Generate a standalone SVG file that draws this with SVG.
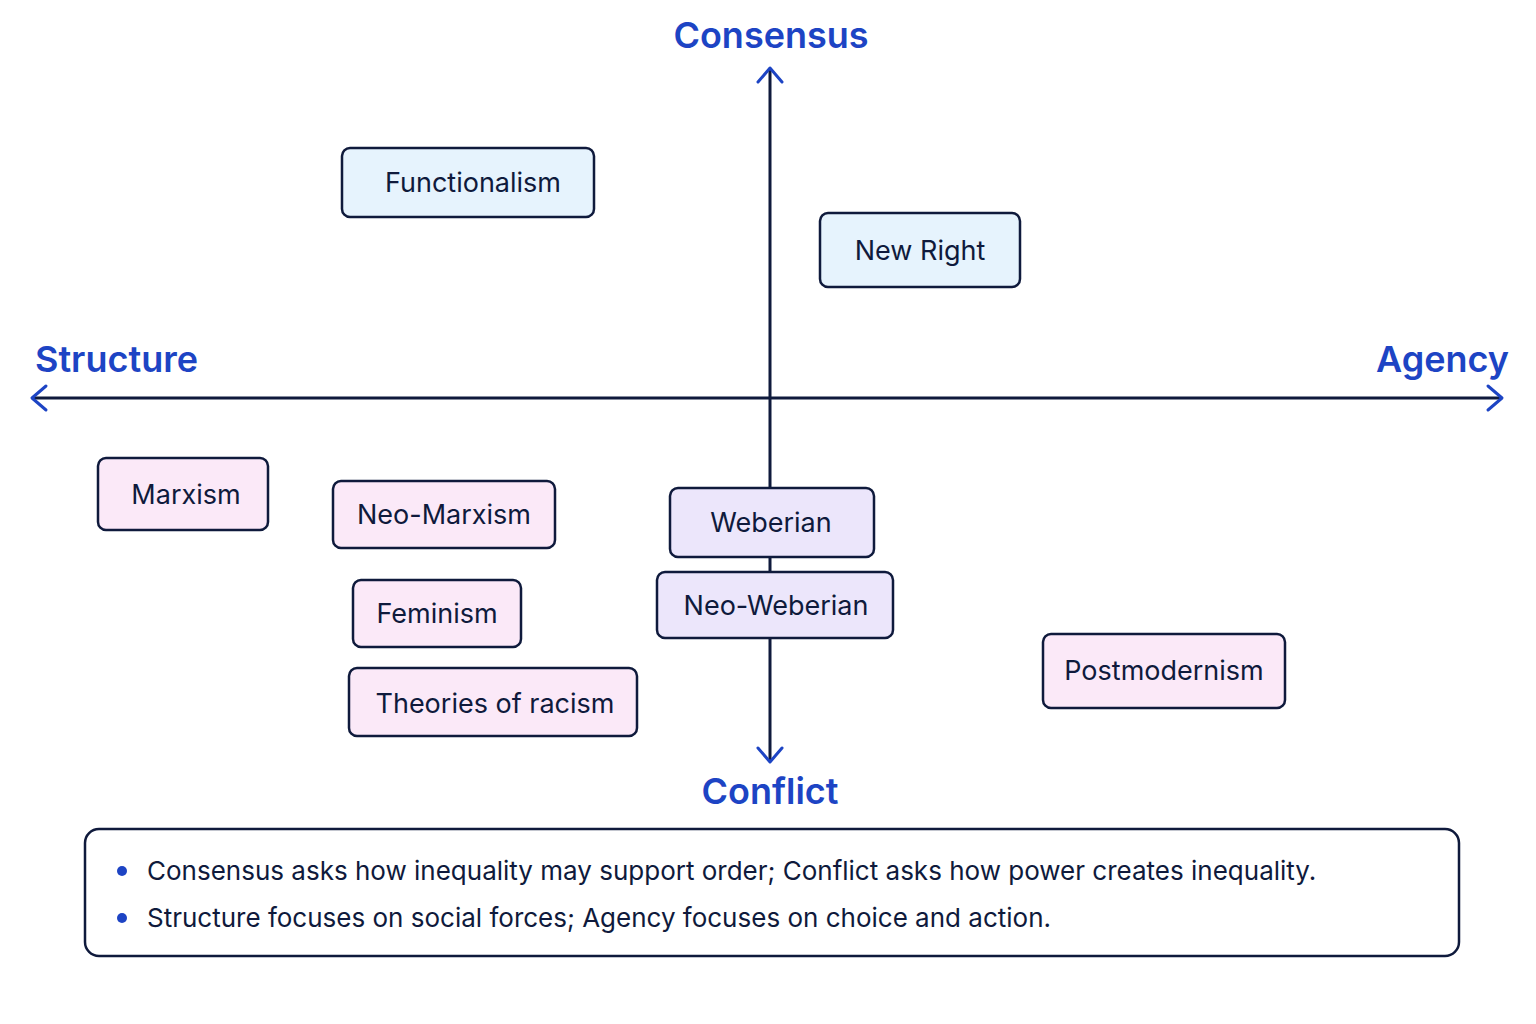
<svg xmlns="http://www.w3.org/2000/svg" width="1536" height="1024" viewBox="0 0 1536 1024">
<style>
.n rect{stroke:#0f1a3c;stroke-width:2.5}
.b rect{fill:#e6f3fd}
.p rect{fill:#fbe9f8}
.v rect{fill:#ece6fb}
.n text{font-family:Inter,"Liberation Sans",sans-serif;font-size:27px;fill:#0f1a3c;text-anchor:middle;dominant-baseline:central}
.ax{font-family:Inter,"Liberation Sans",sans-serif;font-size:36px;font-weight:600;fill:#1d44c4}
.ln{stroke:#0f1a3c;stroke-width:3;fill:none}
.ah{stroke:#1d44c4;stroke-width:3;fill:none;stroke-linecap:round;stroke-linejoin:round}
.note{font-family:Inter,"Liberation Sans",sans-serif;font-size:26px;fill:#0f1a3c}
</style>
<rect width="1536" height="1024" fill="#fff"/>
<g id="connectors">
<line class="ln" x1="770" y1="70" x2="770" y2="760"/>
<line class="ln" x1="32" y1="398" x2="1502" y2="398"/>
<polyline class="ah" points="758,82 770,68 782,82"/>
<polyline class="ah" points="758,748 770,762 782,748"/>
<polyline class="ah" points="46,386 32,398 46,410"/>
<polyline class="ah" points="1488,386 1502,398 1488,410"/>
</g>
<text class="ax" x="771" y="48" text-anchor="middle">Consensus</text>
<text class="ax" x="770" y="804" text-anchor="middle">Conflict</text>
<text class="ax" x="35" y="372">Structure</text>
<text class="ax" x="1509" y="372" text-anchor="end">Agency</text>
<g id="functionalism" class="n b"><rect x="342" y="148" width="252" height="69" rx="8"/><text x="473" y="182">Functionalism</text></g>
<g id="newright" class="n b"><rect x="820" y="213" width="200" height="74" rx="8"/><text x="920" y="250">New Right</text></g>
<g id="marxism" class="n p"><rect x="98" y="458" width="170" height="72" rx="8"/><text x="186" y="494">Marxism</text></g>
<g id="neomarxism" class="n p"><rect x="333" y="481" width="222" height="67" rx="8"/><text x="444" y="514">Neo-Marxism</text></g>
<g id="feminism" class="n p"><rect x="353" y="580" width="168" height="67" rx="8"/><text x="437" y="613">Feminism</text></g>
<g id="racism" class="n p"><rect x="349" y="668" width="288" height="68" rx="8"/><text x="495" y="703">Theories of racism</text></g>
<g id="weberian" class="n v"><rect x="670" y="488" width="204" height="69" rx="8"/><text x="771" y="522">Weberian</text></g>
<g id="neoweberian" class="n v"><rect x="657" y="572" width="236" height="66" rx="8"/><text x="776" y="605">Neo-Weberian</text></g>
<g id="postmodernism" class="n p"><rect x="1043" y="634" width="242" height="74" rx="8"/><text x="1164" y="670">Postmodernism</text></g>
<g id="notes">
<rect x="85" y="829" width="1374" height="127" rx="14" fill="#fff" stroke="#0f1a3c" stroke-width="2.5"/>
<circle cx="122" cy="871" r="5" fill="#1d44c4"/>
<circle cx="122" cy="918" r="5" fill="#1d44c4"/>
<text class="note" x="147" y="880">Consensus asks how inequality may support order; Conflict asks how power creates inequality.</text>
<text class="note" x="147" y="927">Structure focuses on social forces; Agency focuses on choice and action.</text>
</g>
</svg>
